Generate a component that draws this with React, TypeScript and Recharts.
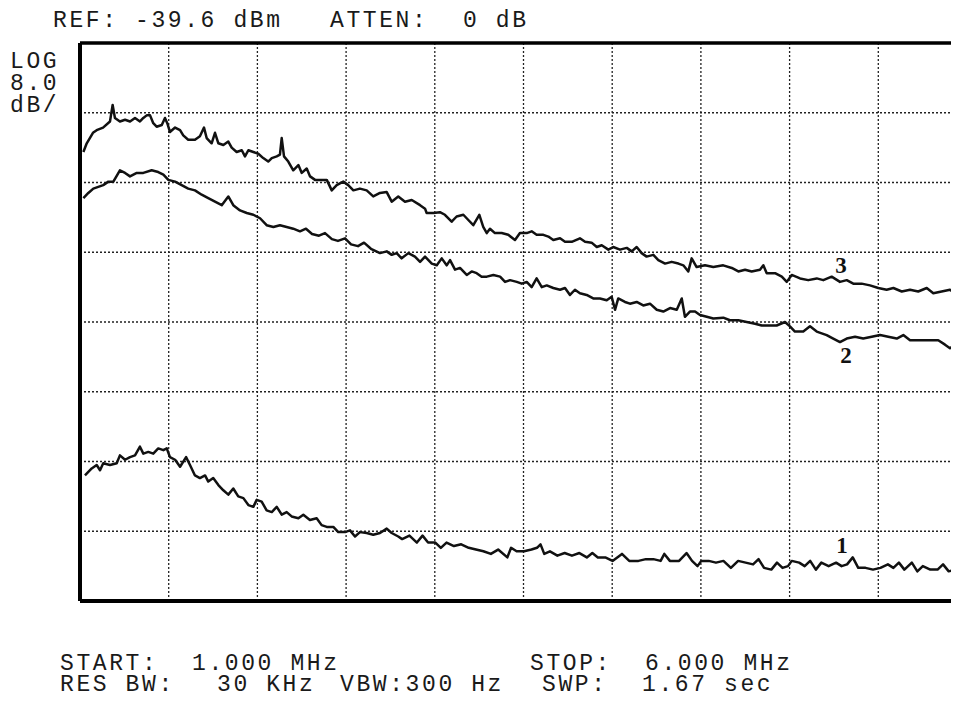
import React from "react";
import { LineChart, Line, XAxis, YAxis, CartesianGrid, ReferenceLine } from "recharts";

// frequency axis, MHz (start / stop and 0.5 MHz per division)
const freqTicks = [1, 1.5, 2, 2.5, 3, 3.5, 4, 4.5, 5, 5.5, 6];
// level axis, dBm (ref -39.6 dBm, 8 dB per division)
const levelTicks = [-103.6, -95.6, -87.6, -79.6, -71.6, -63.6, -55.6, -47.6, -39.6];

// trace 3
const freq3 = [
    1.019, 1.038, 1.073, 1.094, 1.13, 1.169, 1.184, 1.197, 1.225, 1.254, 1.282, 1.31, 1.338, 1.357, 1.376, 1.395,
    1.413, 1.432, 1.461, 1.479, 1.492, 1.507, 1.536, 1.564, 1.582, 1.61, 1.648, 1.676, 1.699, 1.714, 1.742, 1.761,
    1.78, 1.808, 1.836, 1.855, 1.883, 1.912, 1.93, 1.949, 1.977, 2.005, 2.033, 2.061, 2.081, 2.109, 2.127, 2.137,
    2.15, 2.174, 2.202, 2.231, 2.25, 2.278, 2.297, 2.325, 2.353, 2.391, 2.419, 2.447, 2.484, 2.512, 2.541, 2.578,
    2.616, 2.653, 2.691, 2.729, 2.757, 2.794, 2.832, 2.87, 2.917, 2.945, 2.954, 2.992, 3.029, 3.057, 3.095, 3.123,
    3.161, 3.189, 3.217, 3.251, 3.273, 3.293, 3.311, 3.339, 3.377, 3.414, 3.452, 3.48, 3.518, 3.546, 3.574, 3.612,
    3.64, 3.668, 3.706, 3.734, 3.772, 3.818, 3.847, 3.884, 3.913, 3.941, 3.978, 4.006, 4.044, 4.082, 4.11, 4.138,
    4.166, 4.194, 4.232, 4.26, 4.298, 4.335, 4.373, 4.401, 4.429, 4.448, 4.476, 4.523, 4.57, 4.626, 4.674, 4.711,
    4.749, 4.786, 4.833, 4.852, 4.871, 4.918, 4.956, 4.984, 5.012, 5.059, 5.105, 5.153, 5.19, 5.237, 5.284, 5.322,
    5.359, 5.406, 5.453, 5.5, 5.547, 5.585, 5.632, 5.679, 5.725, 5.773, 5.81, 5.857, 5.904, 5.942, 5.989
];
const level3 = [
    -52.1, -51.1, -49.9, -49.6, -49.3, -48.6, -46.7, -48.2, -48.6, -48.4, -48.6, -48.2, -48.6, -48.2, -47.9, -47.9,
    -48.8, -49.2, -49.0, -48.2, -48.8, -49.8, -49.3, -49.6, -50.2, -50.7, -50.7, -50.3, -49.3, -50.5, -51.1, -49.9,
    -51.1, -51.3, -50.9, -51.6, -52.1, -51.9, -52.6, -51.9, -52.1, -52.3, -52.8, -53.2, -52.8, -52.6, -52.4, -50.5,
    -52.6, -53.2, -54.2, -53.6, -54.5, -54.0, -54.9, -55.3, -55.3, -55.3, -56.5, -55.9, -55.5, -55.9, -56.5, -56.3,
    -56.5, -57.2, -56.8, -56.7, -57.8, -57.2, -57.8, -57.6, -58.2, -58.6, -59.1, -59.1, -59.0, -59.3, -60.1, -59.5,
    -59.3, -59.9, -60.5, -59.3, -60.7, -61.4, -60.9, -61.4, -61.4, -61.6, -62.2, -61.4, -61.4, -61.2, -61.6, -61.6,
    -61.8, -62.2, -62.0, -62.4, -62.4, -62.0, -62.4, -62.5, -63.0, -62.8, -63.3, -63.0, -63.3, -63.1, -63.5, -63.0,
    -63.7, -64.1, -63.9, -64.5, -64.9, -64.7, -64.9, -65.1, -65.8, -64.3, -65.3, -65.1, -65.3, -65.1, -65.4, -65.8,
    -65.6, -65.8, -65.6, -65.1, -66.0, -66.0, -66.4, -67.0, -66.2, -66.6, -66.8, -66.6, -66.8, -66.4, -67.0, -66.8,
    -67.2, -67.2, -67.4, -67.7, -67.9, -67.7, -68.1, -67.9, -68.1, -67.7, -68.3, -68.1, -67.9, -68.5, -68.3
];

// trace 2
const freq2 = [
    1.019, 1.047, 1.075, 1.103, 1.131, 1.16, 1.188, 1.225, 1.254, 1.282, 1.32, 1.357, 1.404, 1.441, 1.47, 1.498,
    1.536, 1.573, 1.61, 1.648, 1.686, 1.723, 1.761, 1.799, 1.836, 1.864, 1.902, 1.94, 1.977, 2.015, 2.052, 2.09,
    2.127, 2.165, 2.202, 2.24, 2.274, 2.308, 2.347, 2.381, 2.42, 2.454, 2.494, 2.528, 2.567, 2.601, 2.64, 2.691,
    2.729, 2.757, 2.785, 2.813, 2.851, 2.888, 2.917, 2.945, 2.983, 3.011, 3.039, 3.067, 3.086, 3.114, 3.142, 3.18,
    3.208, 3.236, 3.264, 3.293, 3.33, 3.368, 3.396, 3.424, 3.462, 3.49, 3.518, 3.546, 3.574, 3.603, 3.631, 3.668,
    3.706, 3.734, 3.762, 3.79, 3.818, 3.856, 3.893, 3.931, 3.969, 3.997, 4.016, 4.034, 4.072, 4.1, 4.138, 4.175,
    4.213, 4.251, 4.288, 4.326, 4.364, 4.392, 4.41, 4.438, 4.467, 4.495, 4.533, 4.57, 4.626, 4.664, 4.711, 4.758,
    4.805, 4.843, 4.88, 4.927, 4.974, 5.002, 5.03, 5.077, 5.115, 5.153, 5.209, 5.246, 5.284, 5.322, 5.369, 5.415,
    5.463, 5.51, 5.556, 5.604, 5.641, 5.679, 5.735, 5.792, 5.838, 5.876, 5.904, 5.932, 5.989
];
const level2 = [
    -57.4, -56.8, -56.3, -56.1, -55.9, -55.5, -55.5, -54.2, -54.5, -54.9, -54.5, -54.5, -54.2, -54.4, -54.7, -55.3,
    -55.5, -55.9, -56.3, -56.5, -57.0, -57.4, -57.8, -58.2, -57.2, -58.2, -58.8, -59.1, -59.3, -59.7, -60.5, -60.7,
    -60.5, -60.7, -60.9, -61.2, -60.9, -61.5, -61.7, -61.4, -62.1, -62.3, -62.0, -62.7, -62.9, -62.5, -63.2, -63.7,
    -63.5, -63.9, -63.7, -64.3, -63.7, -64.1, -64.7, -64.1, -64.9, -65.1, -64.3, -65.1, -64.5, -65.6, -65.4, -66.2,
    -65.8, -66.0, -66.4, -66.4, -66.2, -66.4, -67.0, -66.8, -67.0, -67.2, -67.0, -67.6, -66.6, -67.6, -67.4, -67.7,
    -67.9, -67.7, -68.5, -67.9, -68.3, -68.5, -68.9, -68.9, -69.1, -68.7, -70.2, -68.9, -69.3, -69.5, -69.3, -69.7,
    -69.5, -70.2, -70.4, -70.0, -70.2, -68.9, -71.0, -70.4, -70.4, -70.8, -71.0, -71.2, -71.1, -71.4, -71.4, -71.6,
    -71.8, -72.0, -72.0, -72.0, -71.6, -72.1, -72.7, -72.7, -72.1, -72.7, -73.1, -73.5, -73.9, -73.5, -73.3, -73.5,
    -73.3, -73.1, -73.3, -73.5, -73.1, -73.7, -73.7, -73.7, -73.7, -74.2, -74.6, -74.2, -74.0
];

// trace 1
const freq1 = [
    1.028, 1.066, 1.094, 1.113, 1.131, 1.169, 1.207, 1.225, 1.254, 1.282, 1.31, 1.338, 1.357, 1.385, 1.413, 1.441,
    1.47, 1.489, 1.507, 1.536, 1.564, 1.598, 1.62, 1.648, 1.676, 1.705, 1.723, 1.751, 1.78, 1.808, 1.836, 1.864,
    1.892, 1.921, 1.949, 1.977, 1.996, 2.024, 2.052, 2.081, 2.109, 2.137, 2.165, 2.193, 2.231, 2.259, 2.296, 2.334,
    2.362, 2.391, 2.428, 2.456, 2.494, 2.522, 2.55, 2.578, 2.616, 2.653, 2.691, 2.729, 2.757, 2.794, 2.816, 2.857,
    2.899, 2.931, 2.962, 3.003, 3.034, 3.066, 3.108, 3.149, 3.191, 3.232, 3.274, 3.316, 3.357, 3.409, 3.43, 3.461,
    3.503, 3.545, 3.576, 3.596, 3.617, 3.649, 3.691, 3.732, 3.773, 3.815, 3.857, 3.888, 3.919, 3.961, 4.002, 4.055,
    4.096, 4.148, 4.19, 4.232, 4.273, 4.294, 4.325, 4.377, 4.419, 4.45, 4.481, 4.502, 4.544, 4.585, 4.627, 4.669,
    4.71, 4.752, 4.794, 4.825, 4.856, 4.897, 4.929, 4.96, 4.991, 5.012, 5.054, 5.085, 5.116, 5.148, 5.179, 5.22,
    5.262, 5.293, 5.324, 5.356, 5.387, 5.428, 5.47, 5.512, 5.554, 5.585, 5.616, 5.647, 5.689, 5.72, 5.751, 5.793,
    5.834, 5.865, 5.897, 5.939, 5.989
];
const level1 = [
    -89.2, -88.4, -88.0, -88.6, -87.8, -88.0, -87.8, -86.9, -87.4, -87.1, -86.9, -85.9, -86.7, -86.5, -86.7, -86.1,
    -86.3, -86.1, -87.1, -87.4, -88.2, -87.1, -88.0, -89.2, -89.5, -89.2, -89.9, -89.5, -90.3, -90.9, -91.4, -90.7,
    -91.6, -91.8, -92.6, -92.8, -92.0, -92.2, -93.2, -93.4, -92.8, -93.7, -93.4, -93.9, -94.1, -93.7, -94.3, -94.1,
    -94.9, -95.1, -95.1, -95.7, -95.7, -95.5, -96.2, -95.7, -95.8, -96.0, -95.8, -95.3, -95.8, -96.2, -96.5, -96.1,
    -96.9, -96.1, -96.9, -96.9, -97.5, -96.9, -97.3, -97.1, -97.5, -97.7, -97.9, -98.2, -97.7, -98.6, -97.5, -97.9,
    -97.9, -97.7, -97.5, -97.1, -98.2, -97.9, -98.4, -98.1, -98.4, -98.1, -98.6, -98.1, -98.6, -98.6, -99.0, -98.2,
    -99.0, -99.0, -98.8, -98.8, -99.0, -98.2, -99.0, -99.0, -98.1, -99.0, -99.6, -99.0, -99.0, -99.2, -99.0, -99.8,
    -99.0, -99.2, -99.4, -98.8, -99.8, -100.0, -99.2, -99.8, -99.6, -99.0, -99.2, -99.6, -99.0, -100.0, -99.2, -99.6,
    -99.2, -99.6, -99.4, -98.6, -99.8, -99.8, -100.0, -99.8, -99.4, -99.8, -99.2, -100.0, -99.2, -100.2, -99.6, -100.0,
    -100.0, -99.4, -100.2, -100.0, -99.8
];

const zip = (f: number[], v: number[]) => f.map((x, i) => ({ f: x, v: v[i] }));
const trace1 = zip(freq1, level1);
const trace2 = zip(freq2, level2);
const trace3 = zip(freq3, level3);

const mono = "'Liberation Mono', 'Courier New', monospace";
const monoStyle = { fontFamily: mono, fontSize: 23, letterSpacing: 2.6, fill: "#1a1a1a" };
const numStyle = { fontFamily: "'Liberation Serif', 'Times New Roman', serif", fontSize: 23, fontWeight: 700, fill: "#111" };

const App: React.FC = () => {
    return (
        <div style={{ position: "relative", margin: -8, width: 959, height: 701, overflow: "hidden", background: "#fff" }}>
            {/* the right edge of the plot frame is cut off, as in the scan */}
            <div style={{ position: "absolute", left: 0, top: 0, width: 1000, height: 701 }}>
                <LineChart
                    width={1000}
                    height={701}
                    margin={{ top: 43, left: 80, right: 33, bottom: 100 }}
                >
                    <CartesianGrid stroke="#222" strokeWidth={1.3} strokeDasharray="2 2" />
                    <XAxis type="number" dataKey="f" domain={[1, 6]} ticks={freqTicks} allowDataOverflow hide />
                    <YAxis type="number" domain={[-103.6, -39.6]} ticks={levelTicks} allowDataOverflow hide />
                    <ReferenceLine x={1} stroke="#000" strokeWidth={4} />
                    <ReferenceLine y={-39.6} stroke="#000" strokeWidth={3.5} />
                    <ReferenceLine y={-103.6} stroke="#000" strokeWidth={4} />
                    <Line data={trace3} dataKey="v" type="linear" stroke="#111" strokeWidth={2.5} dot={false} isAnimationActive={false} strokeLinejoin="round" />
                    <Line data={trace2} dataKey="v" type="linear" stroke="#111" strokeWidth={2.5} dot={false} isAnimationActive={false} strokeLinejoin="round" />
                    <Line data={trace1} dataKey="v" type="linear" stroke="#111" strokeWidth={2.5} dot={false} isAnimationActive={false} strokeLinejoin="round" />
                </LineChart>
            </div>
            <svg width={959} height={701} style={{ position: "absolute", left: 0, top: 0, pointerEvents: "none" }}>
                <text x={53} y={27} style={monoStyle}>REF: -39.6 dBm</text>
                <text x={330} y={27} style={monoStyle}>ATTEN:</text>
                <text x={463} y={27} style={monoStyle}>0 dB</text>

                <text x={10} y={68} style={monoStyle}>LOG</text>
                <text x={10} y={90} style={monoStyle}>8.0</text>
                <text x={10} y={112} style={monoStyle}>dB/</text>

                <text x={841} y={273} textAnchor="middle" style={numStyle}>3</text>
                <text x={846} y={363} textAnchor="middle" style={numStyle}>2</text>
                <text x={842} y={553} textAnchor="middle" style={numStyle}>1</text>

                <text x={60} y={670} style={monoStyle}>START:</text>
                <text x={192} y={670} style={monoStyle}>1.000 MHz</text>
                <text x={530} y={670} style={monoStyle}>STOP:</text>
                <text x={645} y={670} style={monoStyle}>6.000 MHz</text>

                <text x={60} y={691} style={monoStyle}>RES BW:</text>
                <text x={217} y={691} style={monoStyle}>30 KHz</text>
                <text x={340} y={691} style={monoStyle}>VBW:300 Hz</text>
                <text x={542} y={691} style={monoStyle}>SWP:</text>
                <text x={642} y={691} style={monoStyle}>1.67 sec</text>
            </svg>
        </div>
    );
};

export default App;
